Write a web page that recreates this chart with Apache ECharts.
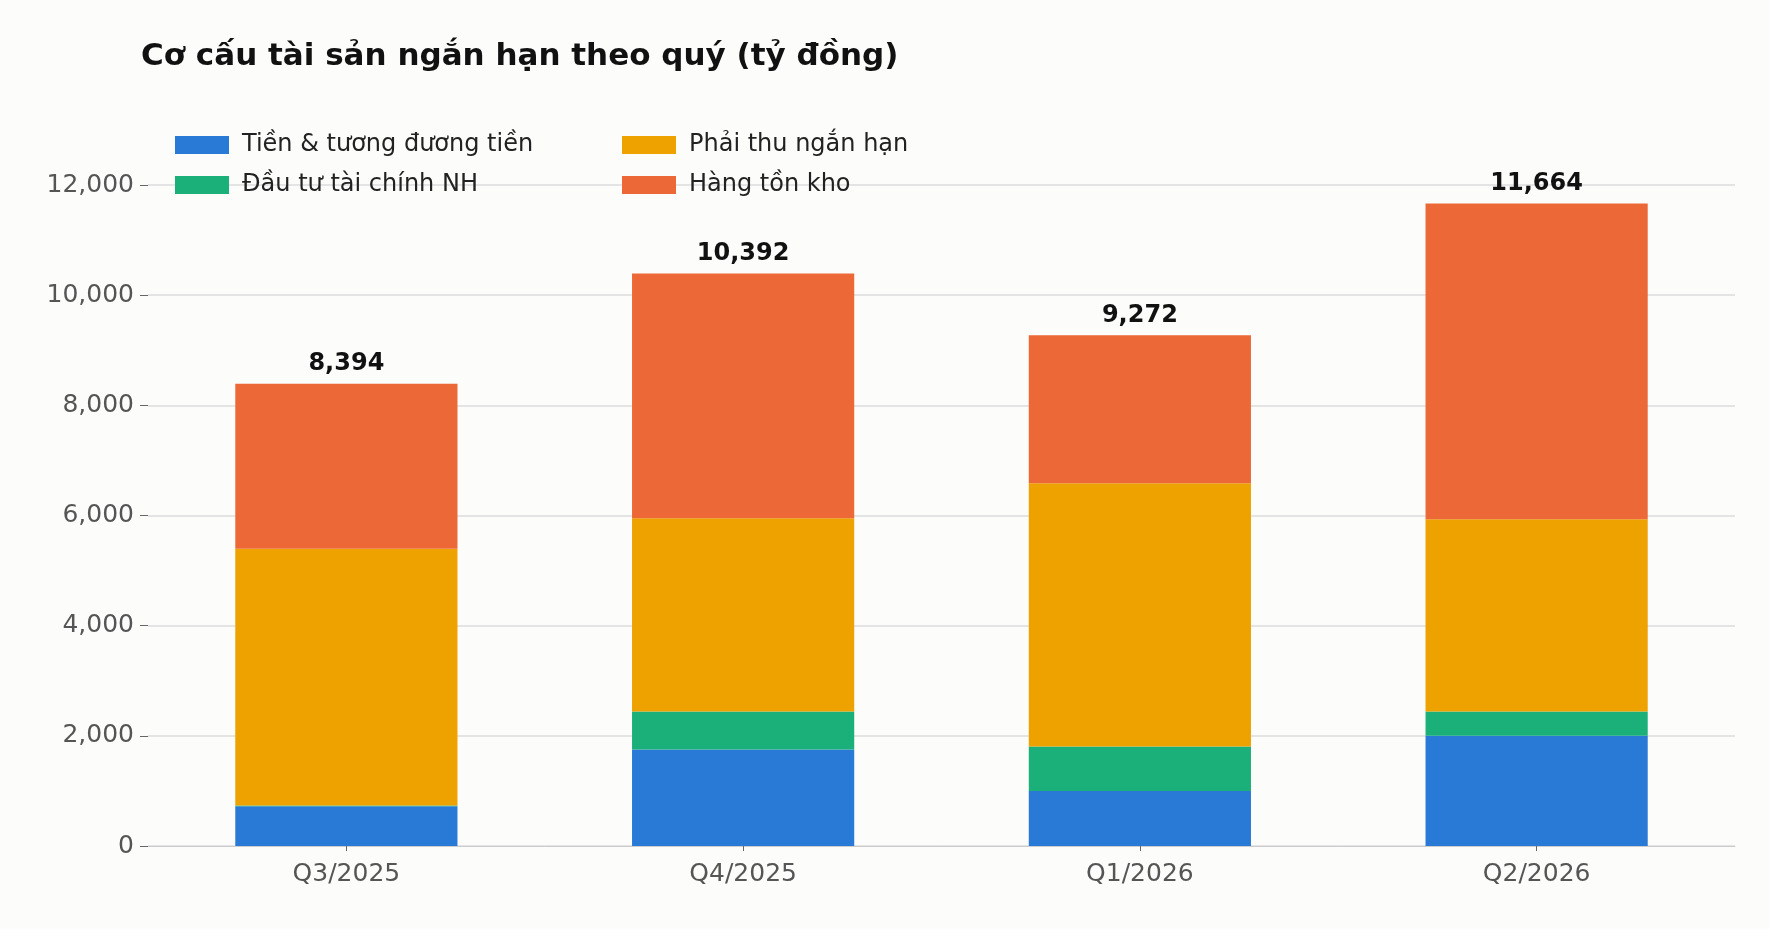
<!DOCTYPE html>
<html><head><meta charset="utf-8">
<script src="https://cdn.jsdelivr.net/npm/echarts@6/dist/echarts.min.js"></script>
<style>html,body{margin:0;background:#fcfcfa}#c{width:1770px;height:929px}</style>
</head><body><div id="c"></div>
<script>
const categories = ['Q3/2025','Q4/2025','Q1/2026','Q2/2026'];
const tien = [720, 1750, 1000, 2000];
const dautu = [15, 690, 805, 440];
const phaithu = [4660, 3508, 4780, 3490];
const hangton = [2999, 4444, 2687, 5734];
const names = ['Tiền & tương đương tiền','Đầu tư tài chính NH','Phải thu ngắn hạn','Hàng tồn kho'];
const colors = ['#2979d6','#1bb07a','#eda200','#ec6836'];
const totals = categories.map((c,i)=>tien[i]+dautu[i]+phaithu[i]+hangton[i]);
const font = 'DejaVu Sans';
const legPos = [[170,128],[170,168],[617,128],[617,168]];
const chart = echarts.init(document.getElementById('c'));
chart.setOption({
  backgroundColor:'#fcfcfa',
  textStyle:{fontFamily:font},
  title:{text:'Cơ cấu tài sản ngắn hạn theo quý (tỷ đồng)',left:136,top:36,textStyle:{fontSize:31,fontWeight:'bold',color:'#111',fontFamily:font}},
  legend: names.map((n,i)=>({data:[n],left:legPos[i][0],top:legPos[i][1],itemWidth:54,itemHeight:18,itemGap:10,icon:'rect',
    textStyle:{fontSize:24,color:'#222',fontFamily:font,padding:[0,0,0,8]}})),
  grid:{left:148,right:35,top:185,bottom:83},
  xAxis:{type:'category',data:categories,axisLine:{lineStyle:{color:'#ccc'}},axisTick:{show:true,alignWithLabel:true,lineStyle:{color:'#666'}},
    axisLabel:{fontSize:25,color:'#555',margin:16,fontFamily:font}},
  yAxis:{type:'value',min:0,max:12000,interval:2000,axisLine:{show:false},axisTick:{show:true,length:8,lineStyle:{color:'#666'}},
    splitLine:{lineStyle:{color:'#ddd',width:1.5}},axisLabel:{fontSize:25,color:'#555',margin:14,fontFamily:font}},
  series:[tien,dautu,phaithu,hangton].map((d,i)=>({
    name:names[i],type:'bar',stack:'a',data:d,barWidth:'56%',itemStyle:{color:colors[i]},
    label: i===3?{show:true,position:'top',fontSize:24,fontWeight:'bold',color:'#111',distance:8,fontFamily:font,
      formatter:p=>totals[p.dataIndex].toLocaleString('en-US')}:{show:false}
  }))
});
</script></body></html>
